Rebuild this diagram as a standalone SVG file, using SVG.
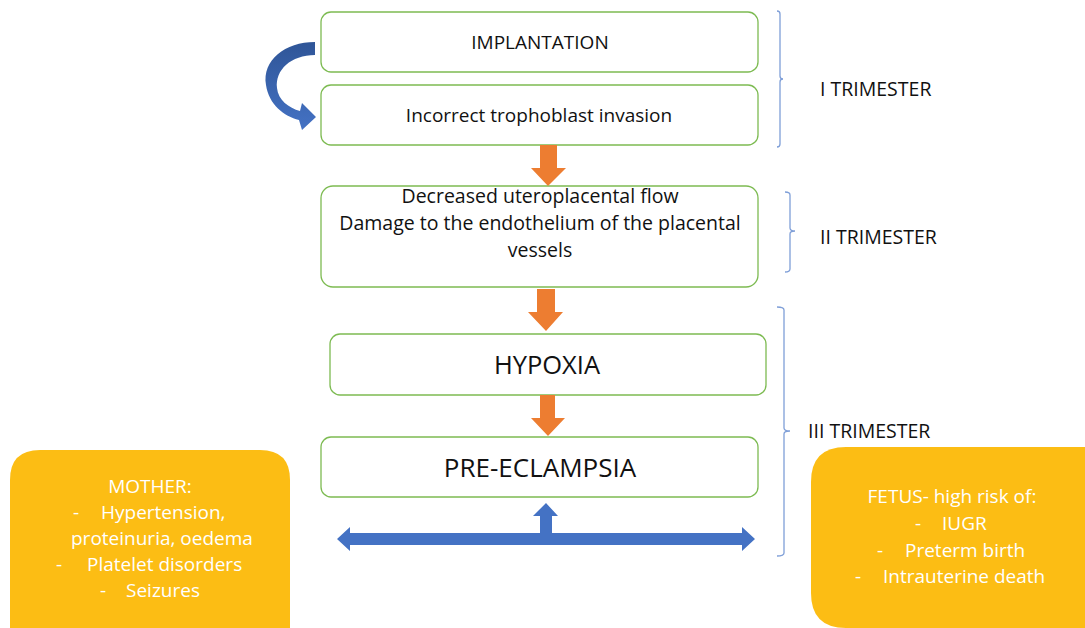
<svg xmlns="http://www.w3.org/2000/svg" width="1085" height="628" viewBox="0 0 1085 628">
<style>
.box{fill:#fff;stroke:#7dbb52;stroke-width:1.3}
.gold{fill:#fcbd14}
.t{font-family:"Open Sans","Liberation Sans",sans-serif;fill:#111}
.w{font-family:"Open Sans","Liberation Sans",sans-serif;fill:#fff;font-size:19px}
.br{fill:none;stroke:#7f9fd8;stroke-width:1.3}
.or{fill:#ed7d31}
.bl{fill:#4472c4}
</style>
<defs>
<linearGradient id="cg" x1="0" y1="0" x2="0" y2="1">
<stop offset="0" stop-color="#2f5597"/>
<stop offset="1" stop-color="#4472c4"/>
</linearGradient>
</defs>
<rect width="1085" height="628" fill="#fff"/>
<g id="implantation">
<rect class="box" x="321" y="12" width="437" height="60" rx="10"/>
<text class="t" x="540" y="49" font-size="19" text-anchor="middle">IMPLANTATION</text>
</g>
<g id="trophoblast">
<rect class="box" x="321" y="85" width="437" height="60" rx="10"/>
<text class="t" x="539" y="122" font-size="19" text-anchor="middle">Incorrect trophoblast invasion</text>
</g>
<g id="uteroplacental">
<rect class="box" x="321" y="186" width="437" height="101" rx="12"/>
<text class="t" font-size="19.5" text-anchor="middle"><tspan x="540" y="203">Decreased uteroplacental flow</tspan><tspan x="540" y="230">Damage to the endothelium of the placental</tspan><tspan x="540" y="257">vessels</tspan></text>
</g>
<g id="hypoxia">
<rect class="box" x="330" y="334" width="436" height="61" rx="10"/>
<text class="t" x="547" y="374" font-size="25.5" text-anchor="middle">HYPOXIA</text>
</g>
<g id="preeclampsia">
<rect class="box" x="321" y="437" width="437" height="60" rx="10"/>
<text class="t" x="540" y="477" font-size="26" text-anchor="middle">PRE-ECLAMPSIA</text>
</g>
<g id="mother">
<path class="gold" d="M40 450 H260 Q290 450 290 480 V628 H10 V480 Q10 450 40 450 Z"/>
<text class="w" x="150" y="493" text-anchor="middle">MOTHER:</text>
<text class="w" y="519"><tspan x="73">-</tspan><tspan x="101">Hypertension,</tspan></text>
<text class="w" x="71" y="545">proteinuria, oedema</text>
<text class="w" y="571"><tspan x="56">-</tspan><tspan x="87">Platelet disorders</tspan></text>
<text class="w" y="597"><tspan x="100">-</tspan><tspan x="126">Seizures</tspan></text>
</g>
<g id="fetus">
<path class="gold" d="M846 447 H1085 V628 H846 Q811 628 811 593 V482 Q811 447 846 447 Z"/>
<text class="w" x="952" y="503" text-anchor="middle">FETUS- high risk of:</text>
<text class="w" y="530"><tspan x="915">-</tspan><tspan x="942">IUGR</tspan></text>
<text class="w" y="557"><tspan x="877">-</tspan><tspan x="905">Preterm birth</tspan></text>
<text class="w" y="583"><tspan x="855">-</tspan><tspan x="883">Intrauterine death</tspan></text>
</g>
<g id="trimesters">
<path class="br" d="M777 11 Q780 11 780 14 V76 Q780 79 783 79 Q780 79 780 82 V144 Q780 147 777 147"/>
<text class="t" x="820" y="96" font-size="19.5">I TRIMESTER</text>
<path class="br" d="M785 192 Q790 192 790 195 V228 Q790 231 795 231 Q790 231 790 234 V269 Q790 272 785 272"/>
<text class="t" x="820" y="244" font-size="19.5">II TRIMESTER</text>
<path class="br" d="M777 307 Q784 307 784 310 V428 Q784 431 790 431 Q784 431 784 434 V553 Q784 556 777 556"/>
<text class="t" x="808" y="438" font-size="19.5">III TRIMESTER</text>
</g>
<g id="connectors">
<path fill="url(#cg)" d="M315 42 C285 42 262 60 266 85 C269 105 284 116 299 120 L302 130 L316 117 L302 103 L300 111 C289 108 278 100 277 88 C275 70 291 55 315 55 Z"/>
<path class="or" d="M540 145 H557 V168 H566 L548 186 L531 168 H540 Z"/>
<path class="or" d="M537 289 H555 V312 H563 L546 331 L528 312 H537 Z"/>
<path class="or" d="M540 395 H555 V418 H565 L548 436 L531 418 H540 Z"/>
<path class="bl" d="M337 539 L350 527 V533 H540 V516 H533 L546 503 L558 516 H552 V533 H742 V527 L755 539 L742 551 V545 H350 V551 Z"/>
</g>
</svg>
